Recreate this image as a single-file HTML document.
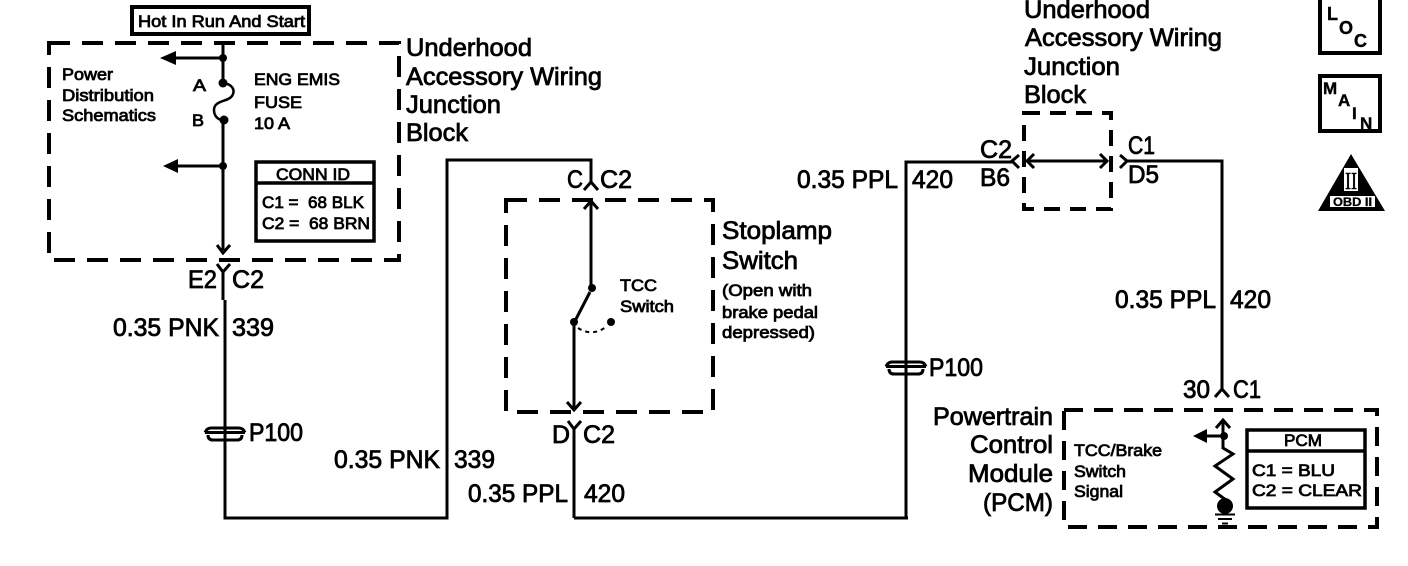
<!DOCTYPE html>
<html><head><meta charset="utf-8"><style>
html,body{margin:0;padding:0;background:#fff}
svg{display:block}
text{font-family:"Liberation Sans",sans-serif;fill:#000;stroke:#000}
.l{font-size:25px;stroke-width:.8}
.s{font-size:17px;stroke-width:.8}
.w{fill:none;stroke:#000;stroke-width:3}
.t{fill:none;stroke:#000;stroke-width:2.5}
.d{fill:none;stroke:#000;stroke-width:4;stroke-dasharray:21 12}
.b{fill:none;stroke:#000;stroke-width:3.500}
</style></head><body>
<svg width="1408" height="566" viewBox="0 0 1408 566" xmlns="http://www.w3.org/2000/svg">
<rect width="1408" height="566" fill="#fff"/>

<!-- Hot box -->
<rect x="132" y="7" width="177" height="27" fill="none" stroke="#000" stroke-width="4"/>
<text class="s" x="138" y="27" textLength="167" lengthAdjust="spacingAndGlyphs">Hot In Run And Start</text>

<!-- Dashed boxes -->
<rect x="49" y="43" width="350" height="217" class="d"/>
<rect x="506" y="200" width="207" height="212" class="d"/>
<rect x="1024" y="113" width="87" height="96" class="d" style="stroke-dasharray:16 10"/>
<rect x="1064" y="410" width="313" height="117" class="d" style="stroke-dasharray:19 11"/>

<!-- Fuse block wiring -->
<path class="w" d="M223 44V83M223 120V250"/>
<path class="t" d="M223 83C232 84 236 90 232 96C228 102 214 100 214 110C214 116 218 120 223 120"/>
<path class="w" d="M223 58H170M223 166H172"/>
<path d="M160 58L176 51V65ZM163 166L178 159V173Z" fill="#000"/>
<circle cx="223" cy="58" r="4"/><circle cx="223" cy="83" r="4.500"/><circle cx="224" cy="120" r="4.500"/><circle cx="223" cy="166" r="4"/>
<path class="w" d="M217 245L223 253L230 245"/>
<path class="w" d="M217 264L223 272L230 264M223 272V300"/>
<path class="w" d="M225 300V518H447V160H591V182"/>
<path class="w" d="M584 190L591 182L598 190"/>

<!-- P100 left -->
<path class="w" d="M211 428H239M211 440H239"/>
<path d="M205 432.500H245" fill="none" stroke="#000" stroke-width="3"/>
<path d="M205 432.500Q207 428 211 428M245 432.500Q243 428 239 428M208 435Q208 440 213 440M242 435Q242 440 237 440" fill="none" stroke="#000" stroke-width="3"/>

<!-- Stoplamp switch -->
<path class="w" d="M591 201V288"/>
<path class="w" d="M584 209L591 201L598 209"/>
<circle cx="592" cy="288" r="4"/>
<path class="w" d="M590 292L575 321"/>
<circle cx="574" cy="322" r="4"/>
<circle cx="611" cy="322" r="4"/>
<path d="M578 328Q592 337 606 327" fill="none" stroke="#000" stroke-width="2" stroke-dasharray="4 4"/>
<path class="w" d="M574 322V410"/>
<path class="w" d="M567 402L574 410L581 402"/>
<path class="w" d="M568 421L574 429L581 421M574 429V518"/>
<path class="w" d="M574 518H908"/>
<path class="w" d="M906 518V162H1012"/>

<!-- P100 right -->
<path class="w" d="M892 362H920M892 374H920"/>
<path d="M886 366.500H926" fill="none" stroke="#000" stroke-width="3"/>
<path d="M886 366.500Q888 362 892 362M926 366.500Q924 362 920 362M889 369Q889 374 894 374M923 369Q923 374 918 374" fill="none" stroke="#000" stroke-width="3"/>

<!-- Junction block right -->
<path class="w" d="M1019 155L1012 161L1019 168"/>
<path class="w" d="M1028 161H1106"/>
<path class="w" d="M1034 154L1027 161L1034 168M1100 154L1107 161L1100 168"/>
<path class="w" d="M1120 155L1127 161L1120 168"/>
<path class="w" d="M1127 161H1222V390"/>
<path class="w" d="M1215 397L1222 389L1229 397"/>

<!-- PCM internals -->
<path class="w" d="M1223 420V448L1233 454L1215 466L1233 479L1215 492L1226 500"/>
<path class="w" d="M1216 428L1223 420L1230 428"/>
<path class="w" d="M1223 436H1204"/>
<path d="M1193 436L1207 429V443Z" fill="#000"/>
<circle cx="1224" cy="436" r="4"/>
<circle cx="1225" cy="506" r="8"/>
<path d="M1215 514.500H1235M1218 519H1232M1222 523.500H1228" fill="none" stroke="#000" stroke-width="2"/>

<!-- CONN ID -->
<rect x="256" y="162" width="118" height="79" class="b"/>
<path class="b" d="M256 183H374"/>
<text class="s" x="276" y="180" textLength="74" lengthAdjust="spacingAndGlyphs">CONN ID</text>
<text class="s" x="262" y="208" textLength="102" lengthAdjust="spacingAndGlyphs">C1 = &#160;68 BLK</text>
<text class="s" x="262" y="229" textLength="108" lengthAdjust="spacingAndGlyphs">C2 = &#160;68 BRN</text>

<!-- PCM box -->
<rect x="1247" y="430" width="118" height="78" class="b"/>
<path class="b" d="M1247 451H1365"/>
<text class="s" x="1284" y="446" textLength="38" lengthAdjust="spacingAndGlyphs">PCM</text>
<text class="s" x="1252" y="476" textLength="83" lengthAdjust="spacingAndGlyphs">C1 = BLU</text>
<text class="s" x="1252" y="496" textLength="110" lengthAdjust="spacingAndGlyphs">C2 = CLEAR</text>

<!-- Large labels -->
<text class="l" x="406" y="56" textLength="126" lengthAdjust="spacingAndGlyphs">Underhood</text>
<text class="l" x="406" y="85" textLength="196" lengthAdjust="spacingAndGlyphs">Accessory Wiring</text>
<text class="l" x="406" y="113" textLength="95" lengthAdjust="spacingAndGlyphs">Junction</text>
<text class="l" x="406" y="141" textLength="62" lengthAdjust="spacingAndGlyphs">Block</text>

<text class="l" x="1024" y="18" textLength="126" lengthAdjust="spacingAndGlyphs">Underhood</text>
<text class="l" x="1025" y="46" textLength="197" lengthAdjust="spacingAndGlyphs">Accessory Wiring</text>
<text class="l" x="1024" y="75" textLength="96" lengthAdjust="spacingAndGlyphs">Junction</text>
<text class="l" x="1024" y="103" textLength="62" lengthAdjust="spacingAndGlyphs">Block</text>

<text class="l" x="722" y="239" textLength="110" lengthAdjust="spacingAndGlyphs">Stoplamp</text>
<text class="l" x="722" y="269" textLength="76" lengthAdjust="spacingAndGlyphs">Switch</text>
<text class="s" x="722" y="296" textLength="90" lengthAdjust="spacingAndGlyphs">(Open with</text>
<text class="s" x="722" y="318" textLength="96" lengthAdjust="spacingAndGlyphs">brake pedal</text>
<text class="s" x="722" y="338" textLength="93" lengthAdjust="spacingAndGlyphs">depressed)</text>
<text class="s" x="620" y="291" textLength="37" lengthAdjust="spacingAndGlyphs">TCC</text>
<text class="s" x="620" y="312" textLength="54" lengthAdjust="spacingAndGlyphs">Switch</text>

<text class="s" x="62" y="80" textLength="51" lengthAdjust="spacingAndGlyphs">Power</text>
<text class="s" x="62" y="101" textLength="92" lengthAdjust="spacingAndGlyphs">Distribution</text>
<text class="s" x="62" y="121" textLength="94" lengthAdjust="spacingAndGlyphs">Schematics</text>
<text class="s" x="193" y="91" textLength="13" lengthAdjust="spacingAndGlyphs">A</text>
<text class="s" x="192" y="126" textLength="12" lengthAdjust="spacingAndGlyphs">B</text>
<text class="s" x="254" y="85" textLength="86" lengthAdjust="spacingAndGlyphs">ENG EMIS</text>
<text class="s" x="254" y="108" textLength="48" lengthAdjust="spacingAndGlyphs">FUSE</text>
<text class="s" x="254" y="129" textLength="36" lengthAdjust="spacingAndGlyphs">10 A</text>

<text class="l" x="188" y="288" textLength="29" lengthAdjust="spacingAndGlyphs">E2</text>
<text class="l" x="232" y="288" textLength="32" lengthAdjust="spacingAndGlyphs">C2</text>
<text class="l" x="113" y="336" textLength="106" lengthAdjust="spacingAndGlyphs">0.35 PNK</text>
<text class="l" x="232" y="336" textLength="42" lengthAdjust="spacingAndGlyphs">339</text>
<text class="l" x="249" y="441" textLength="54" lengthAdjust="spacingAndGlyphs">P100</text>
<text class="l" x="334" y="468" textLength="106" lengthAdjust="spacingAndGlyphs">0.35 PNK</text>
<text class="l" x="454" y="468" textLength="41" lengthAdjust="spacingAndGlyphs">339</text>
<text class="l" x="468" y="502" textLength="100" lengthAdjust="spacingAndGlyphs">0.35 PPL</text>
<text class="l" x="584" y="502" textLength="41" lengthAdjust="spacingAndGlyphs">420</text>
<text class="l" x="567" y="188" textLength="16" lengthAdjust="spacingAndGlyphs">C</text>
<text class="l" x="600" y="188" textLength="32" lengthAdjust="spacingAndGlyphs">C2</text>
<text class="l" x="552" y="443" textLength="18" lengthAdjust="spacingAndGlyphs">D</text>
<text class="l" x="583" y="443" textLength="32" lengthAdjust="spacingAndGlyphs">C2</text>
<text class="l" x="797" y="188" textLength="101" lengthAdjust="spacingAndGlyphs">0.35 PPL</text>
<text class="l" x="912" y="188" textLength="41" lengthAdjust="spacingAndGlyphs">420</text>
<text class="l" x="980" y="158" textLength="32" lengthAdjust="spacingAndGlyphs">C2</text>
<text class="l" x="980" y="186" textLength="30" lengthAdjust="spacingAndGlyphs">B6</text>
<text class="l" x="1128" y="154" textLength="27" lengthAdjust="spacingAndGlyphs">C1</text>
<text class="l" x="1128" y="183" textLength="31" lengthAdjust="spacingAndGlyphs">D5</text>
<text class="l" x="1115" y="308" textLength="101" lengthAdjust="spacingAndGlyphs">0.35 PPL</text>
<text class="l" x="1230" y="308" textLength="41" lengthAdjust="spacingAndGlyphs">420</text>
<text class="l" x="929" y="376" textLength="54" lengthAdjust="spacingAndGlyphs">P100</text>
<text class="l" x="1183" y="398" textLength="27" lengthAdjust="spacingAndGlyphs">30</text>
<text class="l" x="1233" y="398" textLength="28" lengthAdjust="spacingAndGlyphs">C1</text>
<text class="l" x="933" y="425" textLength="120" lengthAdjust="spacingAndGlyphs">Powertrain</text>
<text class="l" x="970" y="453" textLength="83" lengthAdjust="spacingAndGlyphs">Control</text>
<text class="l" x="968" y="482" textLength="85" lengthAdjust="spacingAndGlyphs">Module</text>
<text class="l" x="983" y="511" textLength="70" lengthAdjust="spacingAndGlyphs">(PCM)</text>
<text class="s" x="1074" y="456" textLength="88" lengthAdjust="spacingAndGlyphs">TCC/Brake</text>
<text class="s" x="1074" y="477" textLength="52" lengthAdjust="spacingAndGlyphs">Switch</text>
<text class="s" x="1074" y="497" textLength="49" lengthAdjust="spacingAndGlyphs">Signal</text>

<!-- LOC / MAIN / OBD -->
<rect x="1320" y="-3" width="60" height="56" fill="none" stroke="#000" stroke-width="4"/>
<text x="1327" y="20" style="font-size:18px;font-weight:bold;stroke-width:.4">L</text>
<text x="1339" y="34" style="font-size:18px;font-weight:bold;stroke-width:.4">O</text>
<text x="1354" y="47" style="font-size:18px;font-weight:bold;stroke-width:.4">C</text>
<rect x="1320" y="76" width="60" height="55" fill="none" stroke="#000" stroke-width="4"/>
<text x="1323" y="94" style="font-size:17px;font-weight:bold;stroke-width:.4">M</text>
<text x="1338" y="106" style="font-size:17px;font-weight:bold;stroke-width:.4">A</text>
<text x="1352" y="119" style="font-size:17px;font-weight:bold;stroke-width:.4">I</text>
<text x="1360" y="129" style="font-size:17px;font-weight:bold;stroke-width:.4">N</text>
<path d="M1351 154L1385 211H1318Z" fill="#000"/>
<rect x="1344" y="168" width="14" height="23" fill="#fff"/>
<text x="1345" y="189" style="font-family:'Liberation Serif',serif;font-size:24px;stroke-width:.5" textLength="12" lengthAdjust="spacingAndGlyphs">II</text>
<rect x="1330" y="196" width="45" height="11" fill="#fff"/>
<text x="1333" y="206" style="font-size:12px;font-weight:bold;stroke-width:.3" textLength="39" lengthAdjust="spacingAndGlyphs">OBD II</text>
</svg>
</body></html>
